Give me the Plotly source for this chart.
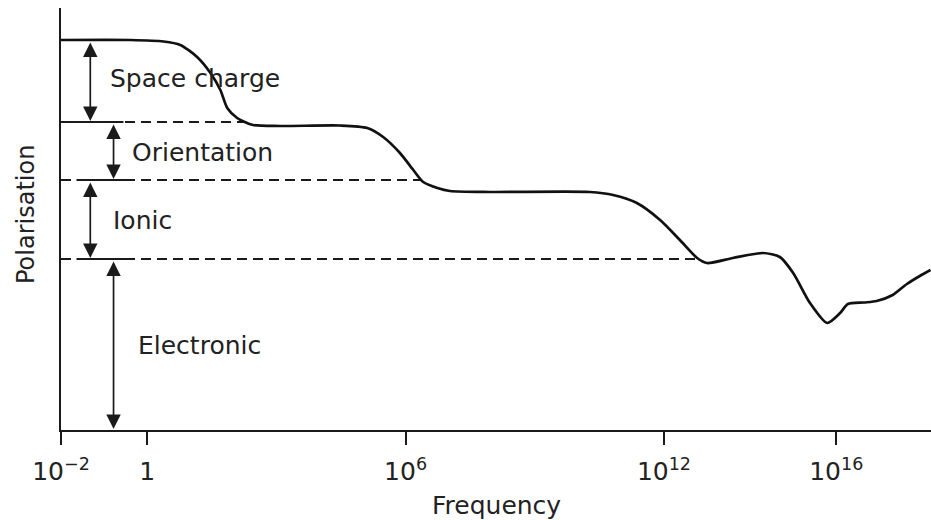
import numpy as np
import plotly.graph_objects as go

# Polarisation vs. frequency (x is log10 of frequency, y in arbitrary units)
log_freq = [-2.0, -0.39, 0.38, 0.77, 1.16, 1.47, 1.70, 1.86, 2.09, 2.46, 3.09,
            4.48, 5.11, 5.48, 5.87, 6.18, 6.41, 6.74, 7.03, 7.96, 10.28, 10.82,
            11.37, 11.91, 12.37, 12.77, 13.00, 13.60, 14.30, 14.69, 15.00, 15.39,
            15.79, 16.09, 16.27, 16.65, 16.94, 17.31, 17.64, 17.94, 18.19]
polarisation = [39.0, 39.0, 38.85, 38.5, 37.3, 35.7, 34.0, 32.2, 31.2, 30.5, 30.4,
                30.45, 30.2, 29.3, 27.7, 26.0, 24.8, 24.2, 23.9, 23.8, 23.8, 23.5,
                22.7, 21.0, 19.0, 17.2, 16.7, 17.2, 17.7, 17.3, 15.7, 12.7,
                10.7, 11.7, 12.6, 12.75, 12.9, 13.5, 14.6, 15.4, 16.0]

# Mechanism boundaries, top to bottom
mechanisms = ["Space charge", "Orientation", "Ionic", "Electronic"]
level_top = [39.0, 30.8, 25.0, 17.1]
level_bottom = [30.8, 25.0, 17.1, 0.0]

tick_exponents = [-2, 0, 6, 12, 16]
tick_labels = ["10<sup>\u22122</sup>", "1", "10<sup>6</sup>", "10<sup>12</sup>", "10<sup>16</sup>"]

FONT = "DejaVu Sans"
INK = "#1a1a1a"
X_RANGE = [-2.0, 18.2]
Y_RANGE = [0.0, 42.2]

fig = go.Figure()

# Dashed boundary lines from the axis to where the curve first meets them
def first_crossing(level):
    x = np.array(log_freq)
    y = np.array(polarisation)
    i = int(np.argmax(y <= level))
    if i == 0:
        return x[0]
    return float(np.interp(level, [y[i], y[i - 1]], [x[i], x[i - 1]]))

for lvl in level_bottom[:3]:
    fig.add_trace(go.Scatter(
        x=[X_RANGE[0], first_crossing(lvl)], y=[lvl, lvl], mode="lines",
        line=dict(color=INK, width=1.9, dash="10px,6px"),
        hoverinfo="skip", showlegend=False))

# Short solid bars where the arrows meet each boundary
bar_spans = {30.8: (-1.83, -0.55), 25.0: (-1.64, -0.39), 17.1: (-1.64, -0.39)}
for lvl, (x0, x1) in bar_spans.items():
    fig.add_trace(go.Scatter(
        x=[x0, x1], y=[lvl, lvl], mode="lines",
        line=dict(color=INK, width=2),
        hoverinfo="skip", showlegend=False))

# The polarisation curve
fig.add_trace(go.Scatter(
    x=log_freq, y=polarisation, mode="lines",
    line=dict(color="#111", width=2.7, shape="spline", smoothing=0.7),
    hoverinfo="skip", showlegend=False))

# Double-headed arrows and labels for each mechanism
arrow_x = [-1.32, -0.78, -1.32, -0.78]
label_x = [-0.92, -0.39, -0.85, -0.25]
label_y = [35.2, 27.8, 21.0, 8.5]
annotations = []
for name, top, bot, ax_, lx, ly in zip(mechanisms, level_top, level_bottom,
                                       arrow_x, label_x, label_y):
    annotations.append(dict(
        x=ax_, y=bot + 0.1, ax=ax_, ay=top - 0.1, xref="x", yref="y",
        axref="x", ayref="y", text="", showarrow=True,
        arrowhead=2, arrowside="end+start", arrowsize=1.7,
        arrowwidth=1.7, arrowcolor=INK, standoff=0, startstandoff=0))
    annotations.append(dict(
        x=lx, y=ly, xref="x", yref="y", text=name, showarrow=False,
        xanchor="left", yanchor="middle",
        font=dict(family=FONT, size=25, color="#222")))

# Axis titles
annotations.append(dict(
    x=0, y=21.5, xref="paper", yref="y", text="Polarisation", showarrow=False,
    textangle=-90, xanchor="center", yanchor="middle", xshift=-35,
    font=dict(family=FONT, size=24, color="#222")))
annotations.append(dict(
    x=8.1, y=0, xref="x", yref="paper", text="Frequency", showarrow=False,
    xanchor="center", yanchor="middle", yshift=-75,
    font=dict(family=FONT, size=25, color="#222")))

fig.update_layout(
    width=931, height=520,
    margin=dict(l=61, r=0, t=8, b=90),
    paper_bgcolor="white", plot_bgcolor="white",
    annotations=annotations,
    xaxis=dict(range=X_RANGE, showgrid=False, zeroline=False,
               showline=True, linecolor=INK, linewidth=2,
               ticks="outside", ticklen=13, tickwidth=1.8, tickcolor=INK,
               ticklabelstandoff=5,
               tickvals=tick_exponents, ticktext=tick_labels,
               tickfont=dict(family=FONT, size=25, color="#222")),
    yaxis=dict(range=Y_RANGE, showgrid=False, zeroline=False,
               showline=True, linecolor=INK, linewidth=2,
               ticks="", showticklabels=False),
)

fig.write_html("out.html")
